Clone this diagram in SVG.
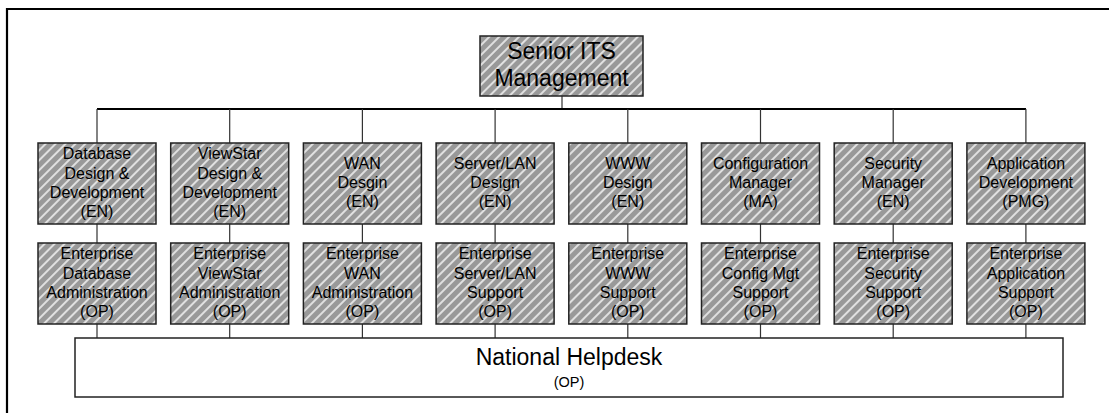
<svg xmlns="http://www.w3.org/2000/svg" width="1109" height="413" viewBox="0 0 1109 413">
<defs>
<pattern id="hatch" patternUnits="userSpaceOnUse" width="7" height="7" patternTransform="rotate(45)">
<rect width="7" height="7" fill="#999999"/>
<line x1="1" y1="0" x2="1" y2="7" stroke="#ffffff" stroke-width="1.4"/>
</pattern>
</defs>
<style>
.box{fill:url(#hatch);stroke:#222;stroke-width:1.5}
.t{font-family:"Liberation Sans",Arial,sans-serif;font-size:16px;fill:#000;text-anchor:middle}
.big{font-family:"Liberation Sans",Arial,sans-serif;font-size:23px;fill:#000;text-anchor:middle}
.c{stroke:#333;stroke-width:1.2;fill:none}
.bus{stroke:#000;stroke-width:2;fill:none}
</style>
<rect x="0" y="0" width="1109" height="413" fill="#fff"/>
<path d="M7,413 V9 H1109" fill="none" stroke="#000" stroke-width="2.2"/>
<g id="connectors">
<line class="c" x1="562" y1="96" x2="562" y2="109"/>
<line class="bus" x1="97" y1="109" x2="1026" y2="109"/>
<path class="c" d="M97,109V143M97,224V243M97,324V338"/>
<path class="c" d="M229.7,109V143M229.7,224V243M229.7,324V338"/>
<path class="c" d="M362.4,109V143M362.4,224V243M362.4,324V338"/>
<path class="c" d="M495.1,109V143M495.1,224V243M495.1,324V338"/>
<path class="c" d="M627.8,109V143M627.8,224V243M627.8,324V338"/>
<path class="c" d="M760.5,109V143M760.5,224V243M760.5,324V338"/>
<path class="c" d="M893.2,109V143M893.2,224V243M893.2,324V338"/>
<path class="c" d="M1025.9,109V143M1025.9,224V243M1025.9,324V338"/>
</g>
<g id="senior">
<rect class="box" x="480" y="36" width="163" height="60"/>
<text class="big" x="561.5" y="59">Senior ITS</text>
<text class="big" x="561.5" y="86">Management</text>
</g>
<g id="r1n1">
<rect class="box" x="38" y="143" width="118" height="81"/>
<text class="t" x="97" y="159.3">Database</text><text class="t" x="97" y="178.6">Design &amp;</text><text class="t" x="97" y="198">Development</text><text class="t" x="97" y="217.3">(EN)</text>
</g>
<g id="r1n2">
<rect class="box" x="170.7" y="143" width="118" height="81"/>
<text class="t" x="229.7" y="159.3">ViewStar</text><text class="t" x="229.7" y="178.6">Design &amp;</text><text class="t" x="229.7" y="198">Development</text><text class="t" x="229.7" y="217.3">(EN)</text>
</g>
<g id="r1n3">
<rect class="box" x="303.4" y="143" width="118" height="81"/>
<text class="t" x="362.4" y="168.6">WAN</text><text class="t" x="362.4" y="188">Desgin</text><text class="t" x="362.4" y="207.3">(EN)</text>
</g>
<g id="r1n4">
<rect class="box" x="436.1" y="143" width="118" height="81"/>
<text class="t" x="495.1" y="168.6">Server/LAN</text><text class="t" x="495.1" y="188">Design</text><text class="t" x="495.1" y="207.3">(EN)</text>
</g>
<g id="r1n5">
<rect class="box" x="568.8" y="143" width="118" height="81"/>
<text class="t" x="627.8" y="168.6">WWW</text><text class="t" x="627.8" y="188">Design</text><text class="t" x="627.8" y="207.3">(EN)</text>
</g>
<g id="r1n6">
<rect class="box" x="701.5" y="143" width="118" height="81"/>
<text class="t" x="760.5" y="168.6">Configuration</text><text class="t" x="760.5" y="188">Manager</text><text class="t" x="760.5" y="207.3">(MA)</text>
</g>
<g id="r1n7">
<rect class="box" x="834.2" y="143" width="118" height="81"/>
<text class="t" x="893.2" y="168.6">Security</text><text class="t" x="893.2" y="188">Manager</text><text class="t" x="893.2" y="207.3">(EN)</text>
</g>
<g id="r1n8">
<rect class="box" x="966.9" y="143" width="118" height="81"/>
<text class="t" x="1025.9" y="168.6">Application</text><text class="t" x="1025.9" y="188">Development</text><text class="t" x="1025.9" y="207.3">(PMG)</text>
</g>
<g id="r2n1">
<rect class="box" x="38" y="243" width="118" height="81"/>
<text class="t" x="97" y="259.3">Enterprise</text><text class="t" x="97" y="278.6">Database</text><text class="t" x="97" y="298">Administration</text><text class="t" x="97" y="317.3">(OP)</text>
</g>
<g id="r2n2">
<rect class="box" x="170.7" y="243" width="118" height="81"/>
<text class="t" x="229.7" y="259.3">Enterprise</text><text class="t" x="229.7" y="278.6">ViewStar</text><text class="t" x="229.7" y="298">Administration</text><text class="t" x="229.7" y="317.3">(OP)</text>
</g>
<g id="r2n3">
<rect class="box" x="303.4" y="243" width="118" height="81"/>
<text class="t" x="362.4" y="259.3">Enterprise</text><text class="t" x="362.4" y="278.6">WAN</text><text class="t" x="362.4" y="298">Administration</text><text class="t" x="362.4" y="317.3">(OP)</text>
</g>
<g id="r2n4">
<rect class="box" x="436.1" y="243" width="118" height="81"/>
<text class="t" x="495.1" y="259.3">Enterprise</text><text class="t" x="495.1" y="278.6">Server/LAN</text><text class="t" x="495.1" y="298">Support</text><text class="t" x="495.1" y="317.3">(OP)</text>
</g>
<g id="r2n5">
<rect class="box" x="568.8" y="243" width="118" height="81"/>
<text class="t" x="627.8" y="259.3">Enterprise</text><text class="t" x="627.8" y="278.6">WWW</text><text class="t" x="627.8" y="298">Support</text><text class="t" x="627.8" y="317.3">(OP)</text>
</g>
<g id="r2n6">
<rect class="box" x="701.5" y="243" width="118" height="81"/>
<text class="t" x="760.5" y="259.3">Enterprise</text><text class="t" x="760.5" y="278.6">Config Mgt</text><text class="t" x="760.5" y="298">Support</text><text class="t" x="760.5" y="317.3">(OP)</text>
</g>
<g id="r2n7">
<rect class="box" x="834.2" y="243" width="118" height="81"/>
<text class="t" x="893.2" y="259.3">Enterprise</text><text class="t" x="893.2" y="278.6">Security</text><text class="t" x="893.2" y="298">Support</text><text class="t" x="893.2" y="317.3">(OP)</text>
</g>
<g id="r2n8">
<rect class="box" x="966.9" y="243" width="118" height="81"/>
<text class="t" x="1025.9" y="259.3">Enterprise</text><text class="t" x="1025.9" y="278.6">Application</text><text class="t" x="1025.9" y="298">Support</text><text class="t" x="1025.9" y="317.3">(OP)</text>
</g>
<g id="helpdesk">
<rect x="75" y="338" width="988" height="59" fill="#fff" stroke="#222" stroke-width="1.5"/>
<text class="big" x="569" y="364.7">National Helpdesk</text>
<text class="t" x="569" y="386.5" style="font-size:14.5px">(OP)</text>
</g>
</svg>
